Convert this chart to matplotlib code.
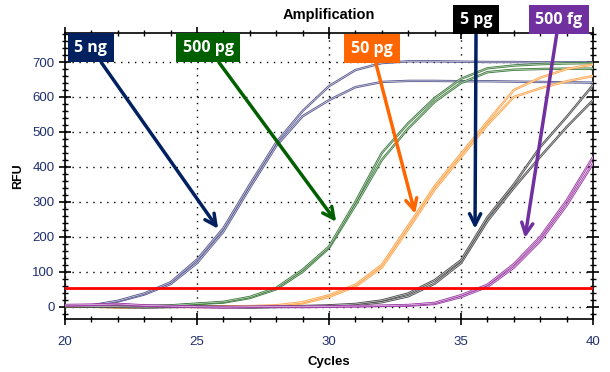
import matplotlib
matplotlib.use("Agg")
import matplotlib.pyplot as plt
from matplotlib.ticker import MultipleLocator

cycles = list(range(20, 41))

# two replicates per dilution, RFU at each cycle (20..40)
ng5_a = [0, 3, 15, 35, 65, 125, 215, 340, 460, 545, 591, 628, 643, 646, 646, 645, 645, 644, 643, 642, 641]
ng5_b = [2, 4, 17, 38, 70, 135, 225, 350, 470, 560, 631, 677, 697, 702, 702, 701, 700, 700, 699, 699, 699]
pg500_a = [2, 1, 0, 1, 3, 8, 12, 25, 50, 100, 168, 290, 420, 510, 586, 640, 671, 678, 680, 681, 681]
pg500_b = [3, 2, 1, 2, 4, 9, 14, 28, 54, 106, 172, 300, 440, 525, 597, 652, 682, 690, 694, 696, 697]
pg50_a = [1, 0, -2, -1, 0, -1, 0, 1, 2, 10, 28, 58, 112, 222, 335, 428, 520, 600, 625, 645, 660]
pg50_b = [2, 1, -1, 0, 1, 0, 1, 2, 4, 13, 33, 63, 120, 232, 345, 438, 530, 620, 655, 680, 693]
pg5_a = [1, 0, -1, -2, -1, 0, -1, -2, -1, 0, 1, 5, 13, 30, 66, 125, 245, 340, 429, 514, 591]
pg5_b = [2, 1, 0, -1, 0, 1, 0, -1, 0, 2, 4, 8, 18, 38, 76, 133, 256, 350, 457, 543, 634]
fg500_a = [4, 5, 7, 3, 1, -1, -2, -1, 0, -1, 0, 1, 2, 3, 8, 28, 57, 112, 188, 290, 410]
fg500_b = [5, 6, 8, 4, 2, 0, -1, 0, 1, 0, 1, 2, 3, 5, 11, 33, 63, 122, 200, 304, 428]

threshold = 54

labels = ["5 ng", "500 pg", "50 pg", "5 pg", "500 fg"]
label_xy = [(20.98, 741), (25.42, 741), (31.63, 738), (35.57, 821), (38.71, 821)]
arrow_tip = [(25.8, 223), (30.27, 243), (33.26, 266), (35.53, 223), (37.42, 197)]
box_colors = ["#002060", "#006000", "#ff6600", "#000000", "#7030a0"]
arrow_colors = ["#002060", "#006000", "#ff6600", "#002060", "#7030a0"]

plt.rcParams['font.family'] = ['Liberation Sans', 'DejaVu Sans']

fig = plt.figure(figsize=(6.1, 3.72), dpi=100)
ax = fig.add_axes([0.1066, 0.1425, 0.8656, 0.7688])

series = [(ng5_a, ng5_b, "#5a5a92"), (pg500_a, pg500_b, "#3c7a3c"),
          (pg50_a, pg50_b, "#ffa347"), (pg5_a, pg5_b, "#4a4a4a"),
          (fg500_a, fg500_b, "#9c3aa4")]
for a, b, c in series:
    for rep in (a, b):
        ax.plot(cycles, rep, color=c, lw=1.7, zorder=3)
        ax.plot(cycles, rep, color="white", lw=0.5, alpha=0.75, zorder=3)

ax.axhline(threshold, color="#ff0000", lw=2, zorder=4)

ax.set_xlim(20, 40)
ax.set_ylim(-35, 783)
ax.xaxis.set_major_locator(MultipleLocator(5))
ax.xaxis.set_minor_locator(MultipleLocator(1))
ax.yaxis.set_major_locator(MultipleLocator(100))
ax.yaxis.set_minor_locator(MultipleLocator(20))
ax.tick_params(axis="both", which="both", direction="inout", top=True, right=True,
               labelcolor="#1f2f6f", labelsize=9.5, color="black")
ax.tick_params(which="major", length=8, width=1.2)
ax.tick_params(which="minor", length=5, width=1)
ax.tick_params(axis="x", which="major", pad=8)
ax.grid(True, which="major", color="black", linestyle=(0, (1, 4)), lw=1)
for s in ax.spines.values():
    s.set_linewidth(1.2)

ax.set_title("Amplification", fontsize=10.5, fontweight="bold", pad=10)
ax.set_xlabel("Cycles", fontsize=9.5, fontweight="bold", labelpad=6)
ax.set_ylabel("RFU", fontsize=9, fontweight="bold", labelpad=6)

for lab, (tx, ty), (hx, hy), bc, arc in zip(labels, label_xy, arrow_tip, box_colors, arrow_colors):
    ax.annotate(lab, xy=(hx, hy), xytext=(tx, ty), textcoords="data",
                ha="center", va="center", color="white", fontsize=11.5,
                fontweight="bold", family=["Open Sans", "DejaVu Sans"],
                bbox=dict(boxstyle="square,pad=0.42", fc=bc, ec="none"),
                arrowprops=dict(arrowstyle="->,head_length=0.7,head_width=0.35",
                                color=arc, lw=2.5, shrinkA=0, shrinkB=0),
                annotation_clip=False, zorder=6)

fig.savefig("out.png", dpi=100)
